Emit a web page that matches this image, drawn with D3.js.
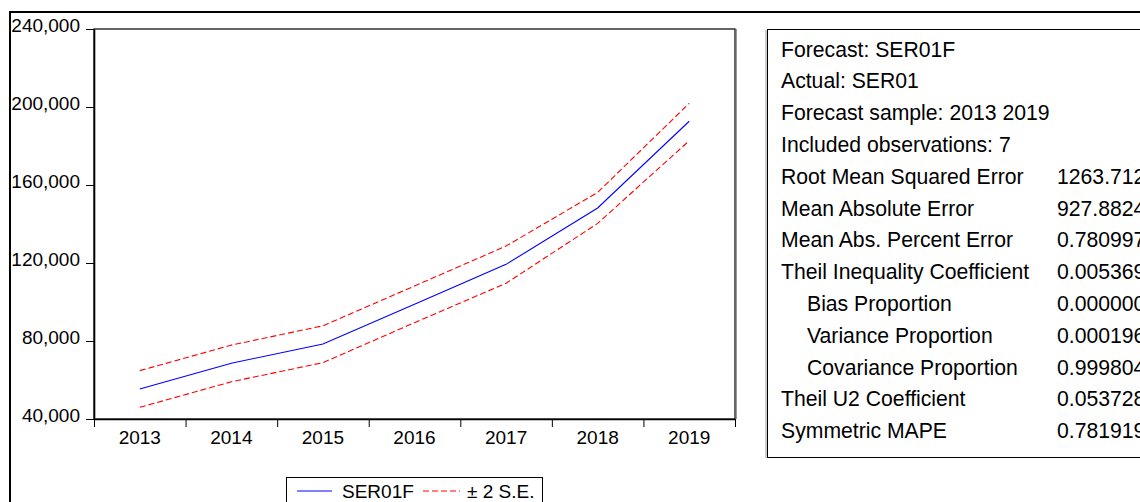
<!DOCTYPE html>
<html>
<head>
<meta charset="utf-8">
<script src="https://cdn.jsdelivr.net/npm/d3@7/dist/d3.min.js"></script>
<style>
  html, body { margin: 0; padding: 0; background: #fff; }
  svg { display: block; font-family: "Liberation Sans", Arial, sans-serif; }
</style>
</head>
<body>
<svg id="chart" width="1140" height="502"></svg>
<script>
(function () {
  "use strict";

  var years = ["2013", "2014", "2015", "2016", "2017", "2018", "2019"];
  var forecast = [55400, 68600, 78500, 98800, 119300, 148200, 192700];
  var upperSE = [64800, 77900, 87800, 108200, 128700, 156200, 201900];
  var lowerSE = [46000, 59100, 68900, 89400, 109600, 140300, 182700];
  var yTicks = [40000, 80000, 120000, 160000, 200000, 240000];

  var headerLines = [
    "Forecast: SER01F",
    "Actual: SER01",
    "Forecast sample: 2013 2019",
    "Included observations: 7"
  ];
  var statLabels = [
    "Root Mean Squared Error",
    "Mean Absolute Error",
    "Mean Abs. Percent Error",
    "Theil Inequality Coefficient",
    "Bias Proportion",
    "Variance Proportion",
    "Covariance Proportion",
    "Theil U2 Coefficient",
    "Symmetric MAPE"
  ];
  var statIndent = [false, false, false, false, true, true, true, false, false];
  var statValues = ["1263.712", "927.8824", "0.780997", "0.005369", "0.000000",
                    "0.000196", "0.999804", "0.053728", "0.781919"];

  var svg = d3.select("#chart");
  var plot = { left: 94, right: 735, top: 29, bottom: 419 };

  svg.append("rect").attr("width", 1140).attr("height", 502).attr("fill", "#fff");

  // outer frame (only left and top edges fall inside the picture)
  svg.append("rect")
    .attr("x", 10).attr("y", 12).attr("width", 1200).attr("height", 600)
    .attr("fill", "none").attr("stroke", "#000").attr("stroke-width", 2);

  var x = d3.scaleBand().domain(years).range([plot.left, plot.right]);
  var y = d3.scaleLinear().domain([40000, 240000]).range([plot.bottom, plot.top]);
  var bounds = d3.scaleLinear().domain([0, years.length]).range([plot.left, plot.right]);

  // plot box
  svg.append("line")
    .attr("x1", plot.right + 1.5).attr("x2", plot.right + 1.5)
    .attr("y1", plot.top).attr("y2", plot.bottom)
    .attr("stroke", "#999").attr("stroke-width", 1);
  svg.append("rect")
    .attr("x", plot.left).attr("y", plot.top)
    .attr("width", plot.right - plot.left).attr("height", plot.bottom - plot.top)
    .attr("fill", "none").attr("stroke", "#000").attr("stroke-width", 1.2);

  var yAxis = svg.append("g")
    .attr("transform", "translate(" + plot.left + ",0)")
    .call(d3.axisLeft(y).tickValues(yTicks).tickFormat(d3.format(",")).tickSize(8).tickPadding(6).tickSizeOuter(0));
  yAxis.select(".domain").attr("stroke-width", 1.6);
  yAxis.selectAll("text").attr("dy", "0.15em").attr("font-size", 19).attr("fill", "#000");
  yAxis.attr("font-family", null);

  var xTicks = svg.append("g")
    .attr("transform", "translate(0," + plot.bottom + ")")
    .call(d3.axisBottom(bounds).tickValues(d3.range(years.length + 1)).tickSize(8).tickFormat("").tickSizeOuter(0));
  xTicks.select(".domain").attr("stroke-width", 1.6);

  var xLabels = svg.append("g")
    .attr("transform", "translate(0," + plot.bottom + ")")
    .call(d3.axisBottom(x).tickSize(0).tickPadding(12));
  xLabels.select(".domain").remove();
  xLabels.selectAll("text").attr("font-size", 19).attr("fill", "#000");
  xLabels.attr("font-family", null);

  var line = d3.line()
    .x(function (d, i) { return x(years[i]) + x.bandwidth() / 2; })
    .y(function (d) { return y(d); });

  [upperSE, lowerSE].forEach(function (series) {
    svg.append("path").datum(series)
      .attr("d", line).attr("fill", "none")
      .attr("stroke", "#ff0000").attr("stroke-width", 1.1)
      .attr("stroke-dasharray", "6,3");
  });
  svg.append("path").datum(forecast)
    .attr("d", line).attr("fill", "none")
    .attr("stroke", "#0000ff").attr("stroke-width", 1.1);

  // legend
  var legend = svg.append("g");
  legend.append("rect")
    .attr("x", 286.5).attr("y", 477.5).attr("width", 256).attr("height", 40)
    .attr("fill", "#fff").attr("stroke", "#000");
  legend.append("line").attr("x1", 297).attr("x2", 332).attr("y1", 491).attr("y2", 491)
    .attr("stroke", "#0000ff");
  legend.append("text").attr("x", 342).attr("y", 498).attr("font-size", 19).attr("fill", "#000")
    .text("SER01F");
  legend.append("line").attr("x1", 423).attr("x2", 460).attr("y1", 491).attr("y2", 491)
    .attr("stroke", "#ff0000").attr("stroke-dasharray", "6,3");
  legend.append("text").attr("x", 467).attr("y", 498).attr("font-size", 19).attr("fill", "#000")
    .text("\u00b1 2 S.E.");

  // statistics box
  var box = svg.append("g");
  box.append("line").attr("x1", 766).attr("x2", 766).attr("y1", 30).attr("y2", 458)
    .attr("stroke", "#999");
  box.append("rect")
    .attr("x", 767.5).attr("y", 29.5).attr("width", 500).attr("height", 428)
    .attr("fill", "#fff").attr("stroke", "#000");

  var rowY = d3.scaleLinear().domain([0, 1]).range([56.5, 88.3]);
  var rows = headerLines.map(function (t) { return { label: t, value: "", indent: false }; })
    .concat(statLabels.map(function (t, i) { return { label: t, value: statValues[i], indent: statIndent[i] }; }));

  var row = box.selectAll("g.row").data(rows).join("g").attr("class", "row")
    .attr("transform", function (d, i) { return "translate(0," + rowY(i) + ")"; });
  row.append("text")
    .attr("x", function (d) { return d.indent ? 807 : 781; })
    .attr("font-size", 21.2).attr("fill", "#000")
    .text(function (d) { return d.label; });
  row.append("text")
    .attr("x", 1057)
    .attr("font-size", 21.2).attr("fill", "#000")
    .text(function (d) { return d.value; });
})();
</script>
</body>
</html>
